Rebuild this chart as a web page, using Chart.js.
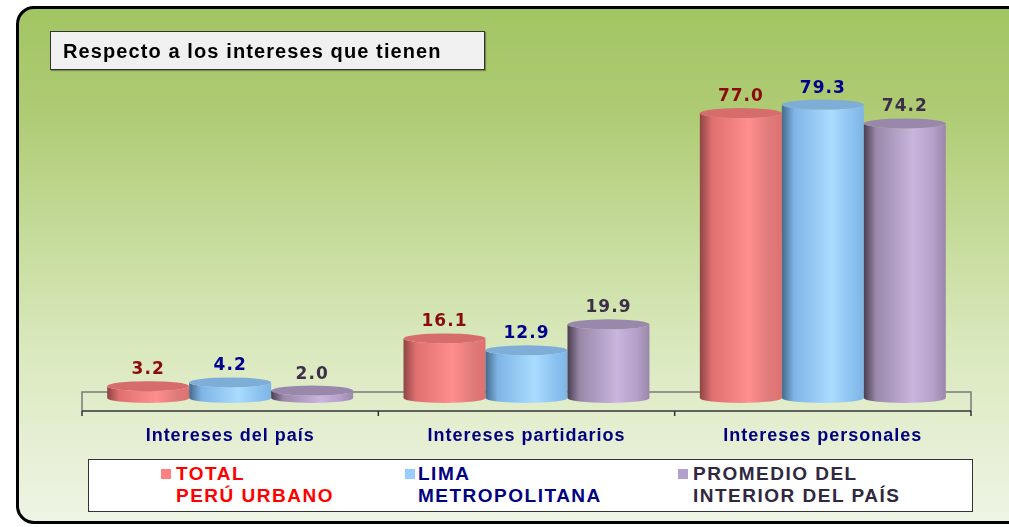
<!DOCTYPE html>
<html lang="es">
<head>
<meta charset="UTF-8">
<title>Respecto a los intereses que tienen</title>
<script src="https://cdn.jsdelivr.net/npm/chart.js"></script>
<style>
    html, body { margin: 0; padding: 0; width: 1009px; height: 527px; overflow: hidden; background: #fff; font-family: "Liberation Sans", Arial, sans-serif; }
    .frame {
        position: absolute; left: 16px; top: 6px; width: 1030px; height: 518px;
        box-sizing: border-box; border: 3px solid #000; border-radius: 18px;
        background: linear-gradient(to bottom, #a2c563 0%, #afcb74 20%, #c6dc9c 45%, #d9e8bc 65%, #e6efd4 85%, #eef4e4 100%);
    }
    #chart { position: absolute; left: 0; top: 0; }
    .title-box {
        position: absolute; left: 50px; top: 31px; width: 435px; height: 39px;
        box-sizing: border-box; border: 1px solid #333; background: #f0f0f0;
        font-weight: bold; font-size: 20px; line-height: 20px; letter-spacing: 1.1px; color: #000;
        padding: 9px 0 0 12px; white-space: nowrap;
        box-shadow: 1px 1px 1px rgba(0,0,0,0.3);
    }
    .legend {
        position: absolute; left: 88px; top: 459px; width: 885px; height: 53px;
        box-sizing: border-box; border: 1px solid #333; background: #fff;
        font-weight: bold; font-size: 19px; line-height: 22px; letter-spacing: 1.5px;
    }
    .legend .sw { position: absolute; top: 9px; width: 10px; height: 10px; }
    .legend .txt { position: absolute; top: 3px; white-space: nowrap; }
</style>
</head>
<body>
<div class="frame"></div>
<canvas id="chart" width="1009" height="527"></canvas>
<div class="title-box">Respecto a los intereses que tienen</div>
<div class="legend" id="legend"></div>

<script>
    // datos
    const categories = ['Intereses del país', 'Intereses partidarios', 'Intereses personales'];
    const totalPeru = [3.2, 16.1, 77.0];
    const limaMetro = [4.2, 12.9, 79.3];
    const interiorPais = [2.0, 19.9, 74.2];
    const seriesNames = [['TOTAL', 'PERÚ URBANO'], ['LIMA', 'METROPOLITANA'], ['PROMEDIO DEL', 'INTERIOR DEL PAÍS']];

    const styles = [
        { dark: '#8e4444', mid: '#e07070', light: '#ff8e8e', edge: '#e07a7a', top: '#d66c6c', label: '#8b0a0a', text: '#ff0000', sw: '#ff8080' },
        { dark: '#45698a', mid: '#7fb5e6', light: '#a9dcff', edge: '#8cc2f0', top: '#7eaed8', label: '#000090', text: '#000080', sw: '#99ccff' },
        { dark: '#4a3e50', mid: '#9a88aa', light: '#c9b5dd', edge: '#b49fc8', top: '#9a88ac', label: '#3c3048', text: '#302840', sw: '#b4a0cc' }
    ];

    // leyenda html
    const swatchX = [72, 316, 589];
    const textX = [87, 329, 604];
    const legend = document.getElementById('legend');
    seriesNames.forEach((n, i) => {
        const sw = document.createElement('div');
        sw.className = 'sw';
        sw.style.left = swatchX[i] + 'px';
        sw.style.background = styles[i].sw;
        legend.appendChild(sw);
        const t = document.createElement('div');
        t.className = 'txt';
        t.style.left = textX[i] + 'px';
        t.style.color = styles[i].text;
        t.innerHTML = n[0] + '<br>' + n[1];
        legend.appendChild(t);
    });

    function drawCylinder(ctx, cx, top, base, w, s) {
        const rx = w / 2, ry = 5;
        const left = cx - rx, right = cx + rx;
        const g = ctx.createLinearGradient(left, 0, right, 0);
        g.addColorStop(0, s.dark);
        g.addColorStop(0.15, s.mid);
        g.addColorStop(0.6, s.light);
        g.addColorStop(0.85, s.edge);
        g.addColorStop(1, s.mid);
        ctx.beginPath();
        ctx.moveTo(left, top);
        ctx.lineTo(left, base);
        ctx.ellipse(cx, base, rx, ry, 0, Math.PI, 0, true);
        ctx.lineTo(right, top);
        ctx.ellipse(cx, top, rx, ry, 0, 0, Math.PI, false);
        ctx.closePath();
        ctx.fillStyle = g;
        ctx.fill();
        ctx.beginPath();
        ctx.ellipse(cx, top, rx, ry, 0, 0, Math.PI * 2);
        ctx.fillStyle = s.top;
        ctx.fill();
    }

    const cylinders = {
        id: 'cylinders',
        beforeDatasetsDraw(chart) {
            const ctx = chart.ctx;
            const a = chart.chartArea;
            const back = a.bottom - 6, front = a.bottom + 13;
            ctx.save();
            ctx.strokeStyle = '#7a7a7a';
            ctx.lineWidth = 1.5;
            ctx.beginPath();
            ctx.moveTo(a.left, front);
            ctx.lineTo(a.left, back);
            ctx.lineTo(a.right, back);
            ctx.lineTo(a.right, front);
            ctx.stroke();
            ctx.strokeStyle = '#333';
            ctx.beginPath();
            ctx.moveTo(a.left, front);
            ctx.lineTo(a.right, front);
            const n = categories.length;
            for (let i = 0; i <= n; i++) {
                const x = a.left + (a.right - a.left) * i / n;
                ctx.moveTo(x, front);
                ctx.lineTo(x, front + 5);
            }
            ctx.stroke();

            // etiquetas de categorias
            const xs = chart.scales.x;
            ctx.font = 'bold 18px "Liberation Sans", Arial, sans-serif';
            ctx.letterSpacing = '1px';
            ctx.fillStyle = '#000080';
            ctx.textAlign = 'center';
            ctx.textBaseline = 'alphabetic';
            xs.ticks.forEach((t, i) => {
                ctx.fillText(xs.getLabelForValue(t.value), xs.getPixelForTick(i), 441);
            });
            ctx.restore();
        },
        afterDatasetsDraw(chart) {
            const ctx = chart.ctx;
            ctx.save();
            chart.data.datasets.forEach((ds, di) => {
                const meta = chart.getDatasetMeta(di);
                meta.data.forEach((bar, i) => {
                    drawCylinder(ctx, bar.x, bar.y, bar.base, bar.width, styles[di]);
                });
            });
            ctx.font = 'bold 17px "DejaVu Sans", sans-serif';
            ctx.letterSpacing = '1px';
            ctx.textAlign = 'center';
            ctx.textBaseline = 'alphabetic';
            chart.data.datasets.forEach((ds, di) => {
                const meta = chart.getDatasetMeta(di);
                meta.data.forEach((bar, i) => {
                    ctx.fillStyle = styles[di].label;
                    ctx.fillText(ds.data[i].toFixed(1), bar.x, bar.y - 12);
                });
            });
            ctx.restore();
        }
    };

    new Chart(document.getElementById('chart'), {
        type: 'bar',
        data: {
            labels: categories,
            datasets: [
                { label: 'TOTAL PERÚ URBANO', data: totalPeru },
                { label: 'LIMA METROPOLITANA', data: limaMetro },
                { label: 'PROMEDIO DEL INTERIOR DEL PAÍS', data: interiorPais }
            ].map(d => Object.assign(d, { backgroundColor: 'rgba(0,0,0,0)', borderWidth: 0, categoryPercentage: 0.83, barPercentage: 1 }))
        },
        options: {
            responsive: false,
            animation: false,
            layout: { padding: { left: 82, right: 38, top: 28, bottom: 69 } },
            scales: {
                x: {
                    grid: { display: false, drawTicks: false },
                    border: { display: false },
                    ticks: { display: false },
                    afterFit: s => { s.height = 60; }
                },
                y: { display: false, min: 0, max: 100 }
            },
            plugins: { legend: { display: false }, tooltip: { enabled: false } }
        },
        plugins: [cylinders]
    });
</script>
</body>
</html>
